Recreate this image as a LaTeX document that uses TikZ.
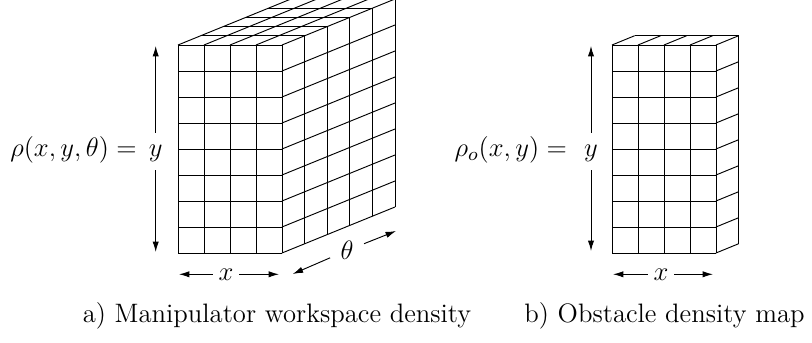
\documentclass[tikz,border=0pt]{standalone}
\usepackage{fix-cm}
\usetikzlibrary{arrows.meta}
\begin{document}
\begin{tikzpicture}[x=0.48pt,y=-0.48pt,
  gridline/.style={line width=0.45pt},
  dimarrow/.style={line width=0.45pt,-{Latex[length=5pt,width=3pt]}},
  biglabel/.style={inner sep=0pt,font=\fontsize{12.8}{15}\selectfont},
  xlabel/.style={inner xsep=2.7pt,inner ysep=0pt,font=\fontsize{12.8}{15}\selectfont},
  thlabel/.style={circle,inner sep=2.3pt,font=\fontsize{12.8}{15}\selectfont},
  captext/.style={inner sep=0pt,anchor=base,font=\fontsize{12.8}{15}\selectfont}]
\useasboundingbox (0,0) rectangle (812,343);
% ---- left block (4 x 8 x 5) ----
\foreach \i in {0,...,4} \draw[gridline] (178+26*\i,45) -- ++(0,208);
\foreach \k in {0,...,8} \draw[gridline] (178,45+26*\k) -- ++(104,0);
\foreach \k in {0,...,8} \draw[gridline] (282,45+26*\k) -- ++(113,-46);
\foreach \j in {1,...,5} \draw[gridline] (282+22.6*\j,45-9.2*\j) -- ++(0,208);
\foreach \i in {0,...,3} \draw[gridline] (178+26*\i,45) -- ++(113,-46);
\foreach \j in {1,...,5} \draw[gridline] (178+22.6*\j,45-9.2*\j) -- ++(104,0);
% ---- right block (4 x 8 x 1) ----
\foreach \i in {0,...,4} \draw[gridline] (612+26*\i,45) -- ++(0,208);
\foreach \k in {0,...,8} \draw[gridline] (612,45+26*\k) -- ++(104,0);
\foreach \k in {0,...,8} \draw[gridline] (716,45+26*\k) -- ++(22.7,-9.3);
\draw[gridline] (738.7,35.7) -- ++(0,208);
\foreach \i in {0,...,3} \draw[gridline] (612+26*\i,45) -- ++(22.7,-9.3);
\draw[gridline] (634.7,35.7) -- ++(104,0);
% ---- left labels ----
\node[biglabel,anchor=base] (rhoA) at (73.5,157) {$\rho(x,y,\theta) =$};
\node[biglabel,anchor=base] (yA) at (155.7,157) {$y$};
\coordinate (yAtop) at (155.7,46);
\coordinate (yAbot) at (155.7,252);
\draw[dimarrow,shorten <=6pt] (yA.north) -- (yAtop);
\draw[dimarrow,shorten <=3.7pt] (yA.south) -- (yAbot);
\node[xlabel] (xA) at (226,274.3) {$x$};
\coordinate (xAl) at (179,274.3);
\coordinate (xAr) at (279,274.3);
\draw[dimarrow] (xA) -- (xAl);
\draw[dimarrow] (xA) -- (xAr);
\node[thlabel] (thA) at (347,250.5) {$\theta$};
\coordinate (thAl) at (292.7,274);
\coordinate (thAr) at (396,231);
\draw[dimarrow] (thA) -- (thAl);
\draw[dimarrow] (thA) -- (thAr);
% ---- right labels ----
\node[biglabel,anchor=base] (rhoB) at (510.8,157) {$\rho_o(x,y) =$};
\node[biglabel,anchor=base] (yB) at (591,157) {$y$};
\coordinate (yBtop) at (591,46);
\coordinate (yBbot) at (591,251);
\draw[dimarrow,shorten <=6pt] (yB.north) -- (yBtop);
\draw[dimarrow,shorten <=3.7pt] (yB.south) -- (yBbot);
\node[xlabel] (xB) at (661,274.3) {$x$};
\coordinate (xBl) at (613,274.3);
\coordinate (xBr) at (713,274.3);
\draw[dimarrow] (xB) -- (xBl);
\draw[dimarrow] (xB) -- (xBr);
% ---- captions ----
\node[captext] (capA) at (277,322.5) {a) Manipulator workspace density};
\node[captext] (capB) at (664.5,322.5) {b) Obstacle density map};
\end{tikzpicture}
\end{document}
